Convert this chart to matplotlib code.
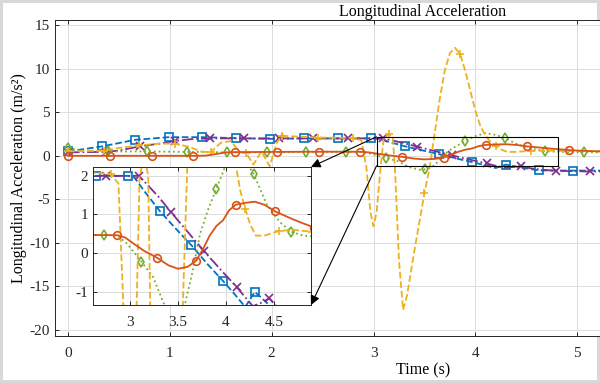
import numpy as np
import matplotlib
matplotlib.use('Agg')
import matplotlib.pyplot as plt
from matplotlib.patches import Rectangle

plt.rcParams['font.family'] = ['Liberation Serif', 'DejaVu Serif']
plt.rcParams['axes.unicode_minus'] = False

# orange, solid, circles
t_or = [0, 0.41, 0.82, 1.23, 1.35, 1.45, 1.55, 1.64, 2.05, 2.46, 2.87, 2.95, 3.05, 3.15,
        3.28, 3.4, 3.5, 3.6, 3.69, 3.76, 3.83, 3.9, 3.97, 4.03, 4.1, 4.2, 4.3, 4.4, 4.51,
        4.6, 4.7, 4.8, 4.92, 5.0, 5.1, 5.2, 5.33, 5.5]
y_or = [0, 0, 0, 0, 0.02, 0.2, 0.38, 0.42, 0.45, 0.47, 0.46, 0.4, 0.22, 0.05,
        -0.12, -0.32, -0.41, -0.36, -0.2, 0.1, 0.45, 0.7, 0.85, 1.1, 1.25, 1.3, 1.33, 1.25, 1.08,
        0.98, 0.87, 0.77, 0.66, 0.6, 0.55, 0.52, 0.5, 0.5]

# yellow, dashed, plus
t_ye = [0, 0.35, 0.5, 0.7, 0.9, 1.05, 1.2, 1.3, 1.4, 1.5, 1.6, 1.68, 1.75, 1.82, 1.9,
        1.98, 2.05, 2.1, 2.45, 2.8, 2.88, 2.93, 2.97, 3.0, 3.03, 3.07, 3.1, 3.15, 3.19,
        3.21, 3.25, 3.29, 3.33, 3.4, 3.5, 3.55, 3.6, 3.65, 3.7, 3.75, 3.8, 3.85, 3.9,
        3.95, 4.0, 4.05, 4.1, 4.15, 4.2, 4.25, 4.31, 4.4, 4.55, 4.7, 4.9, 5.25, 5.5]
y_ye = [0.5, 0.6, 0.9, 1.2, 1.4, 1.4, 1.0, 0.5, 0.4, 1.5, 1.7, 0.5, 0.3, -1.0, 0.5,
        -1.2, 1.5, 2.3, 2.1, 2.05, 1.8, -1.3, -6.5, -8.1, -6.5, -1.3, 2.0, 2.5, 2.0,
        -1.3, -12.0, -17.7, -16.0, -11.0, -4.3, -1.4, 2.5, 6.5, 9.8, 11.8, 12.4, 11.7, 9.8,
        7.5, 5.2, 3.4, 2.3, 1.6, 1.15, 0.75, 0.45, 0.45, 0.57, 0.6, 0.55, 0.5, 0.5]

# purple, dash-dot, x
t_pu = [0, 0.37, 0.5, 0.71, 0.9, 1.05, 1.2, 1.39, 1.73, 2.07, 2.41, 2.75, 3.09, 3.17,
        3.3, 3.43, 3.6, 3.77, 3.95, 4.11, 4.2, 4.28, 4.36, 4.45, 4.55, 4.65, 4.79, 5.0,
        5.13, 5.5]
y_pu = [0.4, 0.45, 0.6, 1.1, 1.4, 1.7, 1.9, 2.0, 2.0, 2.0, 2.0, 2.0, 2.0, 1.8,
        1.45, 1.05, 0.55, 0.05, -0.45, -0.88, -1.15, -1.38, -1.3, -1.18, -1.45, -1.6, -1.72, -1.78,
        -1.8, -1.8]

# green, dotted, diamonds
t_gr = [0, 0.2, 0.39, 0.78, 1.17, 1.56, 1.95, 2.34, 2.73, 2.87, 2.97, 3.12, 3.24, 3.35,
        3.45, 3.51, 3.57, 3.65, 3.73, 3.81, 3.9, 3.99, 4.1, 4.2, 4.29, 4.42, 4.56, 4.68,
        4.8, 5.07, 5.46]
y_gr = [0.9, 0.5, 0.5, 0.5, 0.45, 0.4, 0.4, 0.45, 0.47, 0.45, 0.24, -0.23, -0.62, -1.3,
        -1.6, -1.55, -1.35, -0.5, 0.5, 1.1, 1.67, 2.23, 2.6, 2.4, 2.04, 1.28, 0.8, 0.55,
        0.45, 0.4, 0.4]

# blue, dashed, squares
t_bl = [0, 0.33, 0.66, 0.99, 1.32, 1.65, 1.98, 2.32, 2.65, 2.98, 3.05, 3.15, 3.31, 3.47,
        3.64, 3.8, 3.97, 4.1, 4.2, 4.3, 4.45, 4.63, 4.96, 5.3, 5.5]
y_bl = [0.5, 1.07, 1.84, 2.14, 2.14, 2.03, 1.95, 2.0, 2.0, 2.0, 1.95, 1.6, 1.09, 0.65,
        0.2, -0.27, -0.73, -1.1, -1.4, -1.01, -1.35, -1.68, -1.7, -1.7, -1.7]

series = [
    # t, y, color, linestyle, marker, marker spacing, marker offset
    (t_bl, y_bl, '#0072BD', '--', 's', 0.331, 0.0),
    (t_pu, y_pu, '#7E2F8E', '-.', 'x', 0.34, 0.03),
    (t_gr, y_gr, '#77AC30', ':', 'd', 0.39, 0.0),
    (t_ye, y_ye, '#EDB120', '--', '+', 0.35, 0.0),
    (t_or, y_or, '#D95319', '-', 'o', 0.41, 0.0),
]

x_ticks = [0, 1, 2, 3, 4, 5, 6, 7]
x_labels = ['0', '1', '2', '3', '4', '5', '', '']  # 6 and 7 fall outside the crop
y_ticks = [-20, -15, -10, -5, 0, 5, 10, 15]
zx_ticks = [3, 3.5, 4, 4.5]
zx_labels = ['3', '3.5', '4', '4.5']
zy_ticks = [-1, 0, 1, 2]

AX_COL = '#262626'


def marker_idx(t, step, off):
    t = np.asarray(t)
    marks = np.arange(off, t[-1] + 1e-6, step)
    return sorted(set(int(np.argmin(np.abs(t - m))) for m in marks))


def draw(ax):
    for t, y, c, ls, mk, step, off in series:
        ax.plot(t, y, color=c, ls=ls, lw=1.3, marker=mk, markersize=5.5,
                markerfacecolor='none', markeredgewidth=1.2,
                markevery=marker_idx(t, step, off))


def style(ax):
    ax.grid(True, color='#DCDCDC', lw=0.7)
    ax.set_axisbelow(True)
    ax.tick_params(direction='in', length=3, top=True, right=True,
                   colors=AX_COL, labelsize=11, width=0.7)
    for sp in ax.spines.values():
        sp.set_color(AX_COL)
        sp.set_linewidth(0.7)


fig = plt.figure(figsize=(6, 3.83), dpi=100)
fig.patch.set_edgecolor('#D8D8D8')
fig.patch.set_linewidth(3)

# main axes run past the right edge, like the cropped original
ax = fig.add_axes([55 / 600, 47 / 383, 736 / 600, 316 / 383])
draw(ax)
style(ax)
ax.set_xlim(-0.128, 7.1)
ax.set_ylim(-20.7, 15.6)
ax.set_xticks(x_ticks)
ax.set_xticklabels(x_labels)
ax.set_yticks(y_ticks)
ax.tick_params(axis='x', pad=8)
ax.set_xlabel('Time (s)', fontsize=11.5, labelpad=2)
ax.set_ylabel('Longitudinal Acceleration (m/s²)', fontsize=11.5, labelpad=2)
ax.set_title('Longitudinal Acceleration', fontsize=11.5, pad=3)

# zoom box
ax.add_patch(Rectangle((3.03, -1.15), 1.78, 3.33, fill=False, ec='k', lw=0.8, zorder=5))

axin = fig.add_axes([93 / 600, 78 / 383, 218 / 600, 138 / 383])
draw(axin)
style(axin)
axin.set_xlim(2.615, 4.885)
axin.set_ylim(-1.35, 2.23)
axin.set_xticks(zx_ticks)
axin.set_xticklabels(zx_labels)
axin.set_yticks(zy_ticks)
axin.tick_params(axis='x', pad=8)

arrow = dict(arrowstyle='-|>', color='k', lw=0.8, mutation_scale=14, shrinkA=0, shrinkB=0)
axin.annotate('', xy=(1, 1), xycoords='axes fraction', xytext=(3.03, 2.18),
              textcoords=ax.transData, arrowprops=arrow, annotation_clip=False)
axin.annotate('', xy=(1, 0), xycoords='axes fraction', xytext=(3.03, -1.15),
              textcoords=ax.transData, arrowprops=arrow, annotation_clip=False)

fig.savefig('out.png', dpi=100)
